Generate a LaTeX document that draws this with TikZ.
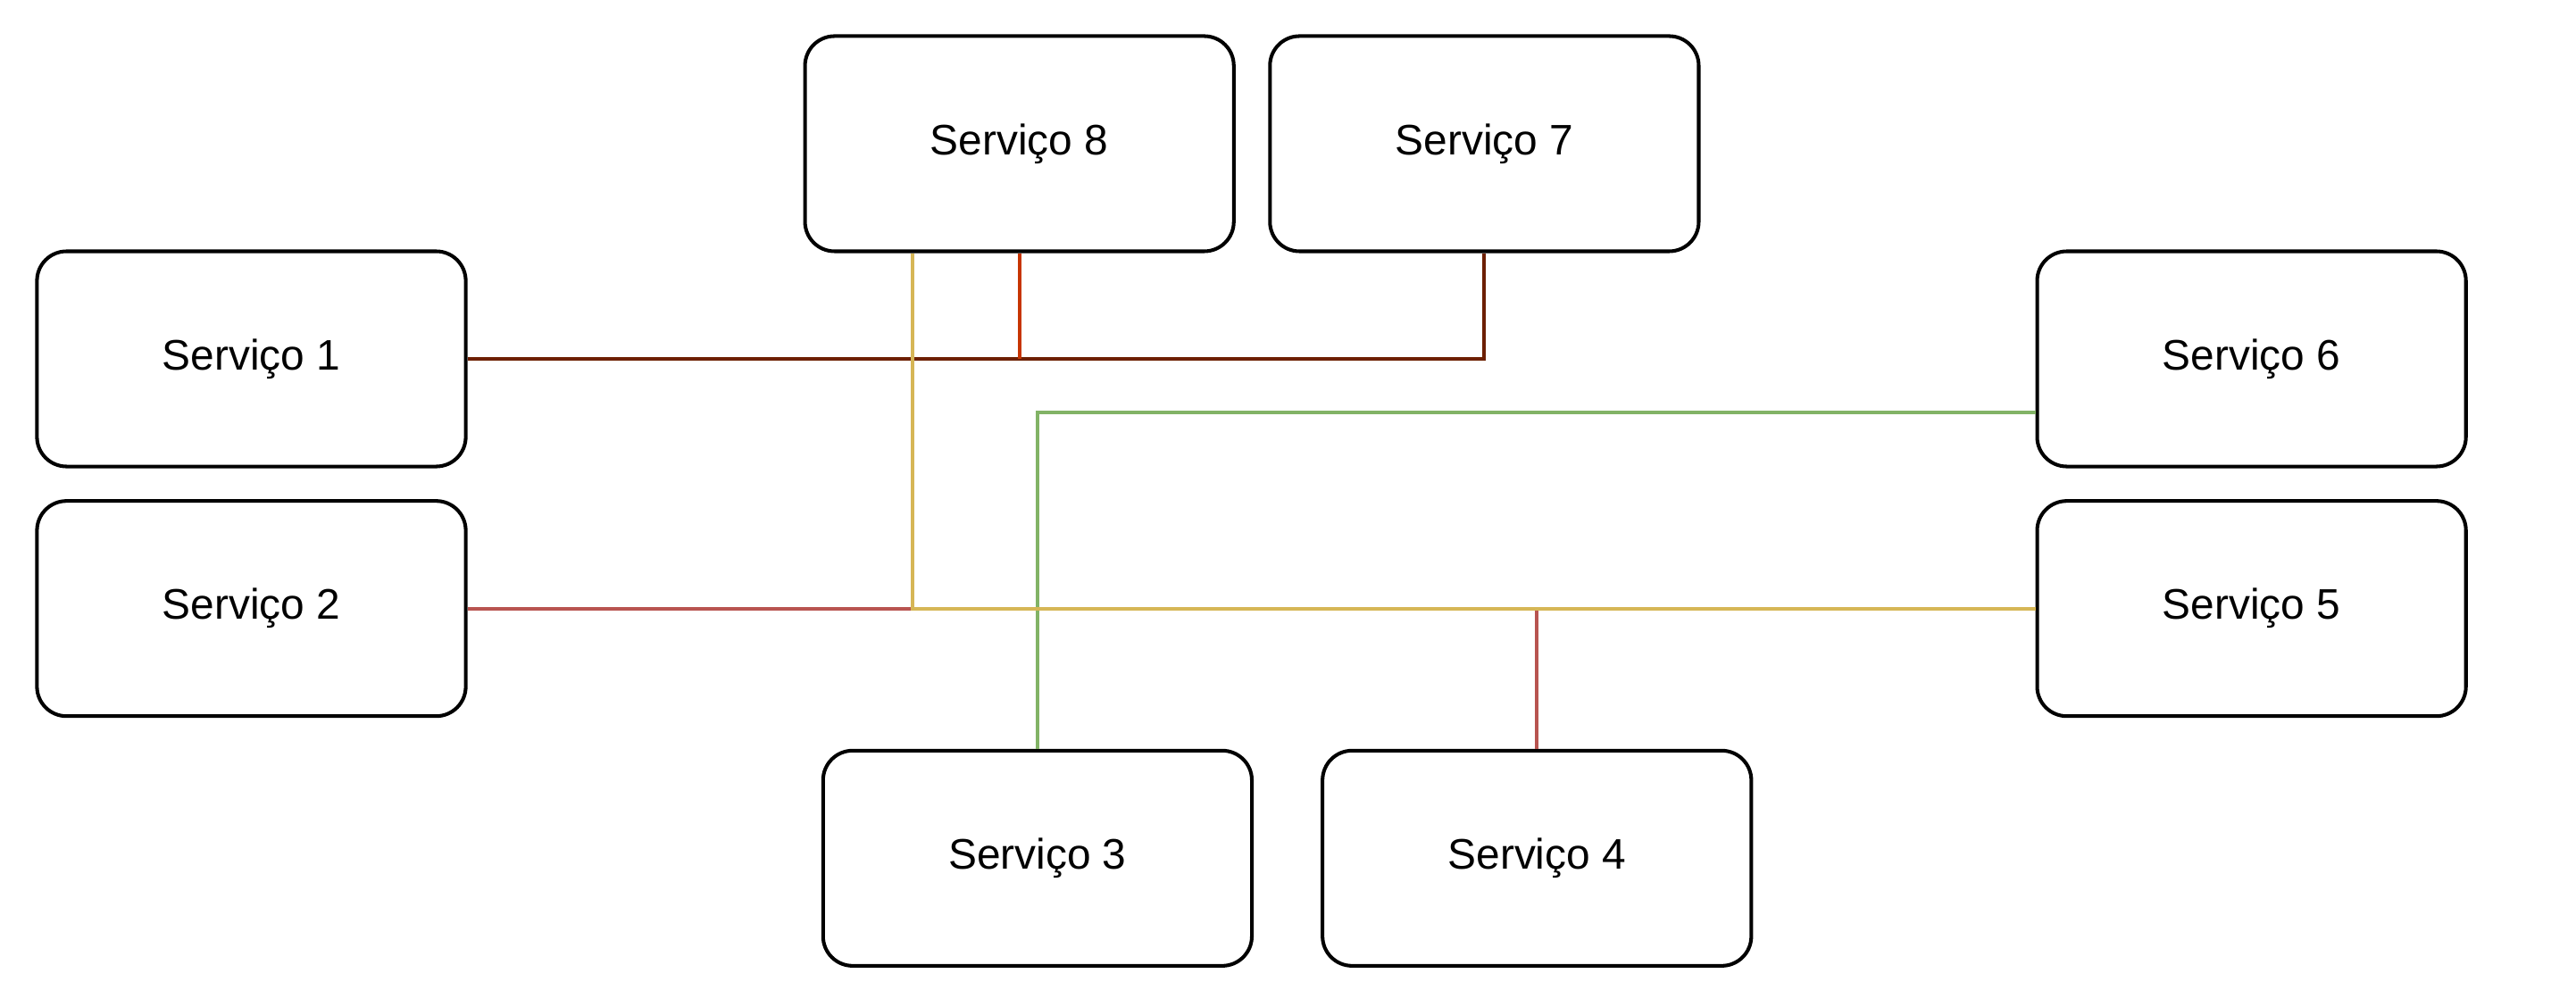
\documentclass[tikz,border=0pt]{standalone}
\usepackage{fontspec}
\setmainfont{Liberation Sans}
\usepackage{tikz}
\definecolor{marrom}{HTML}{6D1F00}
\definecolor{laranja}{HTML}{C73500}
\definecolor{vermelho}{HTML}{B85450}
\definecolor{amarelo}{HTML}{D6B656}
\definecolor{verde}{HTML}{82B366}
\tikzstyle{servico} = [rectangle, rounded corners=9pt, minimum width=130.5pt, minimum height=65.5pt, text centered, line width=1.1pt, draw=black, fill=white, font=\fontsize{13}{15}\selectfont]
\tikzstyle{link} = [line width=1.1pt]
\begin{document}
\begin{tikzpicture}[x=0.5pt, y=-0.5pt]
\useasboundingbox (0,0) rectangle (1568,613);
\node (s8) [servico] at (620.5,87.5) {Serviço 8};
\node (s7) [servico] at (903.5,87.5) {Serviço 7};
\node (s1) [servico] at (153,218.5) {Serviço 1};
\node (s6) [servico] at (1370.5,218.5) {Serviço 6};
\node (s2) [servico] at (153,370.5) {Serviço 2};
\node (s5) [servico] at (1370.5,370.5) {Serviço 5};
\node (s3) [servico] at (631.5,522.5) {Serviço 3};
\node (s4) [servico] at (935.5,522.5) {Serviço 4};
\coordinate (y8) at ([xshift=-32.5pt]s8.south);
\coordinate (g6) at ([yshift=-16.25pt]s6.west);
\draw [link, marrom] (s1) -- (s1 -| s7) -- (s7);
\draw [link, laranja] (s8) -- (s8 |- s1);
\draw [link, verde] (g6) -- (g6 -| s3) -- (s3);
\draw [link, vermelho] (s2) -- (y8 |- s2);
\draw [link, vermelho] (s4) -- (s4 |- s2);
\draw [link, amarelo] (y8) -- (y8 |- s5) -- (s5);
\end{tikzpicture}
\end{document}
